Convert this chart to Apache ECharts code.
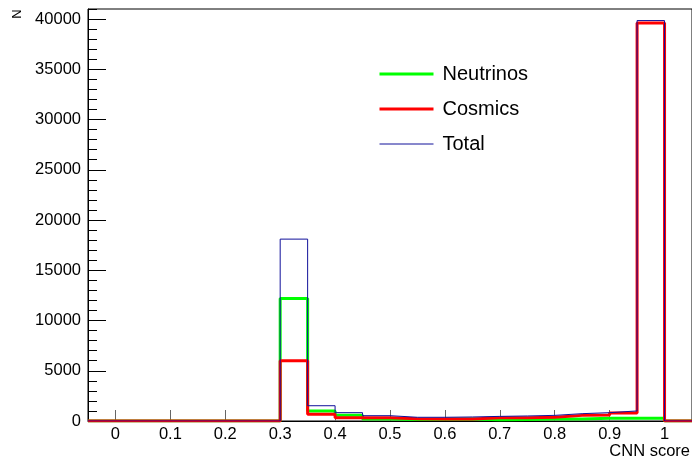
<!DOCTYPE html>
<html>
<head>
<meta charset="utf-8">
<script src="https://cdn.jsdelivr.net/npm/echarts@6/dist/echarts.min.js"></script>
<style>
  html, body { margin: 0; padding: 0; background: #fff; }
  #chart { width: 692px; height: 459px; }
</style>
</head>
<body>
<div id="chart"></div>
<script>
// histogram bin edges (CNN score)
const binEdges = [-0.05, 0, 0.05, 0.1, 0.15, 0.2, 0.25, 0.3, 0.35, 0.4, 0.45, 0.5,
  0.55, 0.6, 0.65, 0.7, 0.75, 0.8, 0.85, 0.9, 0.95, 1.0, 1.05];

const neutrinos = [0, 0, 0, 0, 0, 0, 0, 12200, 1000, 560, 200, 150, 170, 200, 130, 150, 200, 200, 270, 270, 270, 0];
const cosmics   = [0, 0, 0, 0, 0, 0, 0, 6000, 680, 330, 330, 230, 200, 200, 330, 330, 370, 560, 600, 800, 39600, 0];
const total     = [0, 0, 0, 0, 0, 0, 0, 18100, 1520, 830, 530, 370, 370, 400, 460, 500, 560, 730, 830, 1000, 39850, 0];

const xTickValues = [0, 0.1, 0.2, 0.3, 0.4, 0.5, 0.6, 0.7, 0.8, 0.9, 1];
const xTickLabels = ['0', '0.1', '0.2', '0.3', '0.4', '0.5', '0.6', '0.7', '0.8', '0.9', '1'];

const FONT = '"Liberation Sans", Arial, sans-serif';

// points at the lower edge of each bin, plus the last upper edge
const toSteps = counts => binEdges.map((e, i) => [e, counts[Math.min(i, counts.length - 1)]]);

const styles = [
  { name: 'Neutrinos', data: neutrinos, color: '#00ff00', width: 3 },
  { name: 'Cosmics', data: cosmics, color: '#ff0000', width: 3 },
  { name: 'Total', data: total, color: '#10109a', width: 1 },
];

const chart = echarts.init(document.getElementById('chart'));

chart.setOption({
  animation: false,
  grid: {
    left: 88, top: 9, width: 607, height: 412,
    show: true, borderColor: '#000', borderWidth: 1,
  },
  legend: {
    orient: 'vertical',
    left: 378, top: 64, padding: 0,
    itemWidth: 54, itemHeight: 14, itemGap: 15,
    itemStyle: { opacity: 0 },
    textStyle: { fontFamily: FONT, fontSize: 20, color: '#000', padding: [0, 0, 0, 4] },
    data: styles.map(s => ({ name: s.name, lineStyle: { width: s.width } })),
  },
  xAxis: {
    type: 'value',
    min: -0.05, max: 1.05,
    splitLine: { show: false },
    axisLine: { onZero: false, lineStyle: { color: '#000', width: 1 } },
    axisTick: { inside: true, length: 11, customValues: xTickValues, lineStyle: { color: '#666' } },
    axisLabel: {
      customValues: xTickValues,
      margin: 5,
      fontFamily: FONT, fontSize: 16.5, color: '#000',
      formatter: v => {
        let best = 0;
        xTickValues.forEach((t, i) => { if (Math.abs(t - v) < Math.abs(xTickValues[best] - v)) best = i; });
        return xTickLabels[best];
      },
    },
  },
  yAxis: [
    {
      type: 'value', min: 0, max: 41000, interval: 1000,
      splitLine: { show: false },
      axisLine: { show: true, onZero: false, lineStyle: { color: '#000' } },
      axisTick: { inside: true, length: 9, lineStyle: { color: '#000' } },
      axisLabel: { show: false },
    },
    {
      type: 'value', min: 0, max: 41000, interval: 5000,
      position: 'left',
      splitLine: { show: false },
      axisLine: { show: false, onZero: false },
      axisTick: { inside: true, length: 18, lineStyle: { color: '#000' } },
      axisLabel: {
        margin: 7, fontFamily: FONT, fontSize: 16.5, color: '#000', showMaxLabel: false,
        formatter: v => String(v),
      },
    },
  ],
  graphic: [
    {
      type: 'text', right: 2, top: 443,
      style: { text: 'CNN score', fontFamily: FONT, fontSize: 16.5, fill: '#000' },
    },
    {
      type: 'text', x: 17, y: 14, rotation: Math.PI / 2,
      style: { text: 'N', fontFamily: FONT, fontSize: 13, fill: '#000', align: 'center', verticalAlign: 'middle' },
    },
  ],
  series: styles.map(s => ({
    name: s.name,
    type: 'line',
    step: 'end',
    symbol: 'none',
    data: toSteps(s.data),
    lineStyle: { color: s.color, width: s.width },
    itemStyle: { color: s.color },
  })),
});
</script>
</body>
</html>
